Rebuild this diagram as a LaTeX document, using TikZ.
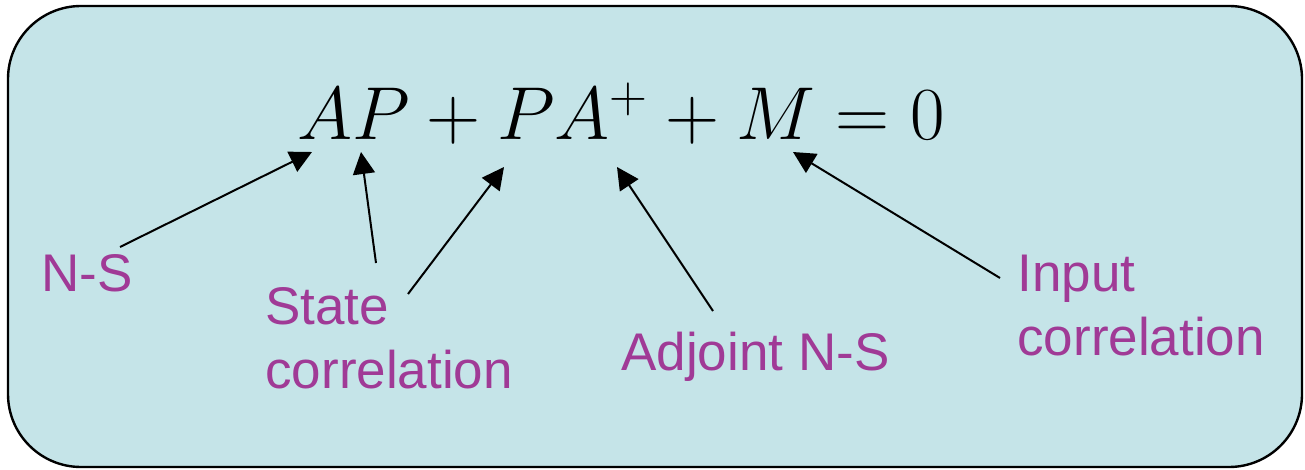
\RequirePackage{fix-cm}
\documentclass[tikz,border=0pt]{standalone}
\usepackage{fontspec}
\newfontfamily\labelfont{Liberation Sans}
\usetikzlibrary{arrows.meta}
\definecolor{boxfill}{RGB}{197,228,232}
\definecolor{labelpurple}{RGB}{160,58,150}
\tikzset{
  panel/.style={draw=black,line width=1.2pt,fill=boxfill,rounded corners=36.5pt},
  lbl/.style={inner sep=0pt,anchor=base west,align=left,text=labelpurple,
    font=\labelfont\fontsize{26.5}{32}\selectfont},
  pointer/.style={draw=black,line width=1pt,-{Triangle[length=11pt,width=11pt]}}
}
\begin{document}
\begin{tikzpicture}[x=0.5pt,y=-0.5pt]
\useasboundingbox (0,0) rectangle (1305,470);
\path[panel] (8,6) rectangle (1302,467);
\node[inner sep=0pt,anchor=base west,font=\fontsize{37.5}{45}\selectfont] (eq) at (297,140) {$AP+PA^{+}+M=0$};
\node[lbl] (ns) at (41,292) {N-S};
\node[lbl] (state) at (265,388) {State\\correlation};
\node[lbl] (adj) at (621,370) {Adjoint N-S};
\node[lbl] (inp) at (1017,355) {Input\\correlation};
\coordinate (hA) at (312,152);
\coordinate (hP) at (361,152);
\coordinate (hP2) at (504,167);
\coordinate (hAp) at (617,167);
\coordinate (hM) at (793,152);
\coordinate (tNS) at (120,247);
\coordinate (tS1) at (376,263);
\coordinate (tS2) at (408,294);
\coordinate (tAdj) at (713,311);
\coordinate (tIn) at (1000,278);
\draw[pointer] (tNS) -- (hA);
\draw[pointer] (tS1) -- (hP);
\draw[pointer] (tS2) -- (hP2);
\draw[pointer] (tAdj) -- (hAp);
\draw[pointer] (tIn) -- (hM);
\end{tikzpicture}
\end{document}
